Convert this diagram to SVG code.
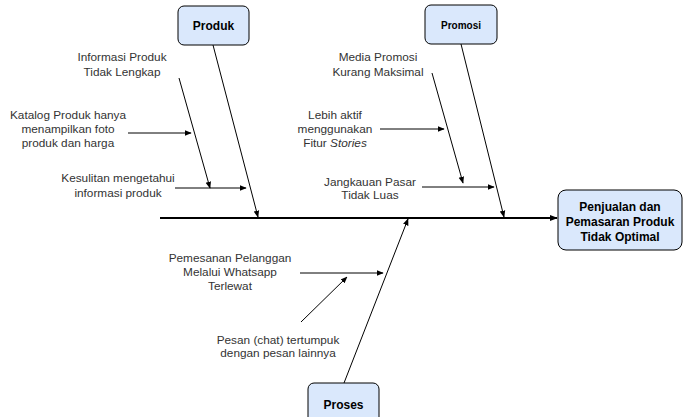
<svg xmlns="http://www.w3.org/2000/svg" width="684" height="417" viewBox="0 0 684 417">
<defs>
<marker id="ah" viewBox="0 0 10 10" refX="9" refY="5" markerWidth="7" markerHeight="7" orient="auto" markerUnits="userSpaceOnUse">
<path d="M0,1 L10,5 L0,9 Z" fill="#000"/>
</marker>
<marker id="ahb" viewBox="0 0 10 10" refX="9" refY="5" markerWidth="8" markerHeight="8" orient="auto" markerUnits="userSpaceOnUse">
<path d="M0,1 L10,5 L0,9 Z" fill="#000"/>
</marker>
</defs>
<style>
.box{fill:#dae8fc;stroke:#000;stroke-width:1}
.t{font-family:"Liberation Sans",Arial,sans-serif;font-size:11.8px;fill:#333;text-anchor:middle}
.b{font-family:"Liberation Sans",Arial,sans-serif;font-weight:bold;fill:#000;text-anchor:middle}
.l{stroke:#000;stroke-width:1;fill:none;marker-end:url(#ah)}
</style>
<rect width="684" height="417" fill="#fff"/>
<g id="connectors">
<line x1="160" y1="218" x2="557" y2="218" stroke="#000" stroke-width="2" marker-end="url(#ahb)"/>
<line class="l" x1="213" y1="45" x2="258" y2="217"/>
<line class="l" x1="461" y1="44" x2="504" y2="217"/>
<line class="l" x1="344" y1="383" x2="408" y2="219"/>
<line class="l" x1="179" y1="78" x2="210" y2="188"/>
<line class="l" x1="128" y1="133" x2="191" y2="133"/>
<line class="l" x1="175" y1="188" x2="246" y2="188"/>
<line class="l" x1="432" y1="73" x2="463" y2="183"/>
<line class="l" x1="380" y1="129" x2="444" y2="129"/>
<line class="l" x1="422" y1="187" x2="494" y2="187"/>
<line class="l" x1="300" y1="273" x2="383" y2="273"/>
<line class="l" x1="301" y1="322" x2="347" y2="277"/>
</g>
<g id="produk">
<rect class="box" x="178" y="6" width="71" height="39" rx="6"/>
<text class="b" x="213.5" y="30" font-size="12">Produk</text>
</g>
<g id="promosi">
<rect class="box" x="425" y="5" width="72" height="39" rx="6"/>
<text class="b" x="461" y="29" font-size="10">Promosi</text>
</g>
<g id="proses">
<rect class="box" x="308" y="383" width="71" height="40" rx="6"/>
<text class="b" x="343.5" y="409" font-size="12">Proses</text>
</g>
<g id="hasil">
<rect class="box" x="558" y="190" width="124" height="60" rx="8"/>
<text class="b" font-size="12"><tspan x="620" y="211">Penjualan dan</tspan><tspan x="620" y="226">Pemasaran Produk</tspan><tspan x="620" y="241">Tidak Optimal</tspan></text>
</g>
<g id="c1"><text class="t"><tspan x="122" y="61">Informasi Produk</tspan><tspan x="122" y="76">Tidak Lengkap</tspan></text></g>
<g id="c2"><text class="t"><tspan x="68" y="119">Katalog Produk hanya</tspan><tspan x="68" y="133">menampilkan foto</tspan><tspan x="68" y="147">produk dan harga</tspan></text></g>
<g id="c3"><text class="t"><tspan x="118" y="182">Kesulitan mengetahui</tspan><tspan x="118" y="197">informasi produk</tspan></text></g>
<g id="c4"><text class="t"><tspan x="378" y="61">Media Promosi</tspan><tspan x="378" y="76">Kurang Maksimal</tspan></text></g>
<g id="c5"><text class="t"><tspan x="335" y="119">Lebih aktif</tspan><tspan x="335" y="133">menggunakan</tspan><tspan x="335" y="147">Fitur <tspan font-style="italic">Stories</tspan></tspan></text></g>
<g id="c6"><text class="t"><tspan x="370" y="186">Jangkauan Pasar</tspan><tspan x="370" y="199">Tidak Luas</tspan></text></g>
<g id="c7"><text class="t"><tspan x="230" y="262">Pemesanan Pelanggan</tspan><tspan x="230" y="276">Melalui Whatsapp</tspan><tspan x="230" y="290">Terlewat</tspan></text></g>
<g id="c8"><text class="t"><tspan x="278" y="344">Pesan (chat) tertumpuk</tspan><tspan x="278" y="357">dengan pesan lainnya</tspan></text></g>
</svg>
